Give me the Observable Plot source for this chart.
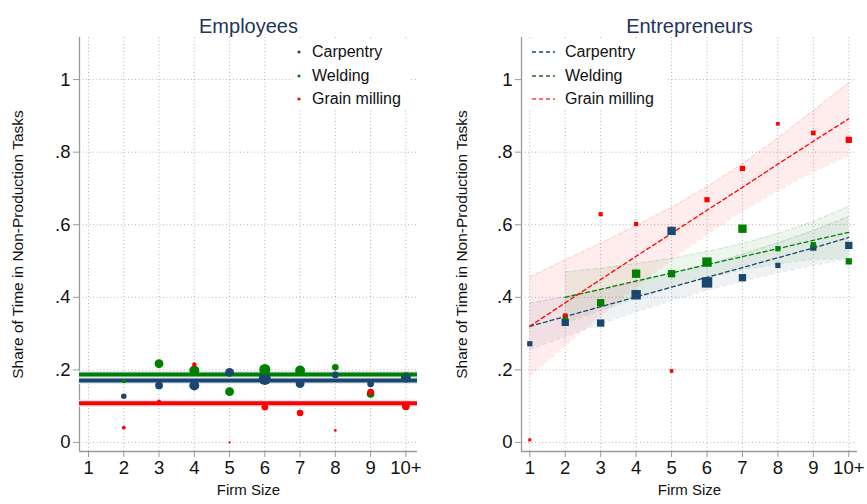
<!DOCTYPE html>
<html>
<head>
<meta charset="utf-8">
<script src="https://cdn.jsdelivr.net/npm/d3@7"></script>
<script src="https://cdn.jsdelivr.net/npm/@observablehq/plot@0.6"></script>
<style>
  body { margin: 0; background: #fff; font-family: "Liberation Sans", Arial, sans-serif; }
  #wrap { position: relative; width: 867px; height: 504px; overflow: hidden; }
  .panel { position: absolute; top: 0; }
  .legend { position: absolute; background: #fff; font-size: 16px; color: #111; }
  .legend .row { position: absolute; white-space: nowrap; line-height: 18px; }
  .legend svg { position: absolute; }
</style>
</head>
<body>
<div id="wrap"></div>
<script>
// ---------- data ----------
const firmSize = [1, 2, 3, 4, 5, 6, 7, 8, 9, 10];
const xTickLabels = ["1", "2", "3", "4", "5", "6", "7", "8", "9", "10+"];
const yTicks = [0, 0.2, 0.4, 0.6, 0.8, 1];
const yTickLabels = ["0", ".2", ".4", ".6", ".8", "1"];
const sectors = ["Carpentry", "Welding", "Grain milling"];
const sectorColors = ["#1a476f", "#008000", "#ff0000"];

// Employees: share by firm size (null = no observation) and cell size
const empCarpentry  = [null, 0.127, 0.157, 0.157, 0.193, 0.175, 0.162, 0.186, 0.161, 0.177];
const empCarpentryN = [null, 25, 49, 81, 64, 121, 64, 36, 36, 64];
const empWelding    = [null, 0.169, 0.217, 0.198, 0.140, 0.201, 0.198, 0.207, 0.134, 0.180];
const empWeldingN   = [null, 16, 64, 81, 64, 100, 81, 36, 49, 81];
const empGrain      = [null, 0.041, 0.113, 0.215, 0.000, 0.097, 0.081, 0.033, 0.139, 0.100];
const empGrainN     = [null, 12, 12, 16, 4, 36, 36, 6, 36, 49];
const empMean       = [0.171, 0.187, 0.108];

// Entrepreneurs: share by firm size and cell size
const entCarpentry  = [0.272, 0.331, 0.329, 0.407, 0.583, 0.441, 0.454, 0.488, 0.537, 0.543];
const entCarpentryN = [25, 49, 49, 81, 64, 100, 49, 25, 36, 49];
const entWelding    = [null, 0.346, 0.385, 0.465, 0.465, 0.497, 0.589, 0.534, 0.545, 0.499];
const entWeldingN   = [null, 25, 49, 64, 49, 81, 64, 25, 25, 36];
const entGrain      = [0.007, 0.350, 0.629, 0.602, 0.197, 0.669, 0.755, 0.878, 0.853, 0.834];
const entGrainN     = [9, 16, 16, 16, 12, 25, 25, 12, 20, 36];

// Entrepreneurs: linear fit and 95% CI read at each firm size
const entCarpentryFit = [0.320, 0.347, 0.374, 0.401, 0.428, 0.455, 0.482, 0.509, 0.536, 0.565];
const entCarpentryLo  = [0.256, 0.292, 0.327, 0.360, 0.391, 0.420, 0.445, 0.468, 0.488, 0.507];
const entCarpentryHi  = [0.384, 0.402, 0.421, 0.442, 0.465, 0.490, 0.519, 0.550, 0.584, 0.623];
const entWeldingFit   = [null, 0.400, 0.422, 0.445, 0.467, 0.490, 0.512, 0.534, 0.557, 0.579];
const entWeldingLo    = [null, 0.330, 0.364, 0.397, 0.427, 0.454, 0.476, 0.492, 0.505, 0.507];
const entWeldingHi    = [null, 0.470, 0.480, 0.493, 0.507, 0.526, 0.548, 0.576, 0.609, 0.651];
const entGrainFit     = [0.320, 0.385, 0.449, 0.513, 0.576, 0.640, 0.703, 0.767, 0.830, 0.892];
const entGrainLo      = [0.184, 0.267, 0.349, 0.429, 0.504, 0.575, 0.638, 0.695, 0.746, 0.792];
const entGrainHi      = [0.456, 0.503, 0.549, 0.597, 0.648, 0.705, 0.768, 0.839, 0.914, 0.992];

// ---------- tables ----------
function pointTable(valuesList, sizesList) {
  const rows = [];
  sectors.forEach((s, k) => {
    firmSize.forEach((f, i) => {
      const v = valuesList[k][i];
      if (v != null) rows.push({sector: s, firm: f, share: v, n: sizesList[k][i]});
    });
  });
  return rows;
}
function fitTable(fits, los, his) {
  const rows = [];
  sectors.forEach((s, k) => {
    firmSize.forEach((f, i) => {
      if (fits[k][i] != null) rows.push({sector: s, firm: f, fit: fits[k][i], lo: los[k][i], hi: his[k][i]});
    });
  });
  return rows;
}
const empPoints = pointTable([empCarpentry, empWelding, empGrain], [empCarpentryN, empWeldingN, empGrainN]);
const empLines = sectors.map((s, k) => ({sector: s, share: empMean[k]}));
const entPoints = pointTable([entCarpentry, entWelding, entGrain], [entCarpentryN, entWeldingN, entGrainN]);
const entFits = fitTable([entCarpentryFit, entWeldingFit, entGrainFit],
                         [entCarpentryLo, entWeldingLo, entGrainLo],
                         [entCarpentryHi, entWeldingHi, entGrainHi]);

const colorScale = {domain: sectors, range: sectorColors};
const yDomain = [-0.025, 1.116];
const gridStyle = {stroke: "#b4b4b4", strokeOpacity: 1, strokeDasharray: "1,2.5", strokeWidth: 1};
const font = "'Liberation Sans', Arial, Helvetica, sans-serif";

function frameMarks(xDomain, title, titleDx) {
  return [
    Plot.gridX(firmSize, gridStyle),
    Plot.gridY(yTicks, gridStyle),
    Plot.ruleX([xDomain[0]], {stroke: "#9a9a9a", strokeWidth: 1.3}),
    Plot.ruleY([yDomain[0]], {stroke: "#9a9a9a", strokeWidth: 1.3}),
    Plot.axisX({ticks: firmSize, tickFormat: d => xTickLabels[d - 1], tickSize: 6, tickPadding: 3,
                fontSize: 18.5, stroke: "#9a9a9a", fill: "#111", label: null}),
    Plot.axisY({ticks: yTicks, tickFormat: d => yTickLabels[yTicks.indexOf(d)], tickSize: 6, tickPadding: 3,
                fontSize: 18.5, stroke: "#9a9a9a", fill: "#111", label: null}),
    Plot.text([title], {frameAnchor: "top", dy: -19, fontSize: 20, fill: "#24335a"}),
    Plot.text(["Firm Size"], {frameAnchor: "bottom", dy: 43, fontSize: 15, fill: "#111"}),
    Plot.text(["Share of Time in Non-Production Tasks"], {frameAnchor: "left", textAnchor: "middle", dx: titleDx,
                rotate: -90, fontSize: 15.5, fill: "#111"})
  ];
}

// ---------- Employees panel ----------
const empX = [0.744, 10.33];
const left = Plot.plot({
  width: 433, height: 504,
  marginLeft: 79, marginRight: 16, marginTop: 37, marginBottom: 53,
  style: {fontFamily: font, background: "transparent"},
  x: {domain: empX, axis: null},
  y: {domain: yDomain, axis: null},
  color: colorScale,
  r: {domain: [0, 121], range: [0, 6.1]},
  marks: [
    ...frameMarks(empX, "Employees", -61),
    Plot.ruleY(empLines, {y: "share", stroke: "#e3e7ee", strokeWidth: 7}),
    Plot.ruleY(empLines, {y: "share", stroke: "sector", strokeWidth: 4}),
    Plot.dot(empPoints, {x: "firm", y: "share", r: "n", fill: "sector", stroke: null})
  ]
});

// ---------- Entrepreneurs panel ----------
const entX = [0.766, 10.246];
const right = Plot.plot({
  width: 434, height: 504,
  marginLeft: 88, marginRight: 10, marginTop: 37, marginBottom: 53,
  style: {fontFamily: font, background: "transparent"},
  x: {domain: entX, axis: null},
  y: {domain: yDomain, axis: null},
  color: colorScale,
  r: {domain: [0, 100], range: [0, 5.9]},
  marks: [
    ...frameMarks(entX, "Entrepreneurs", -59),
    Plot.areaY(entFits, {x: "firm", y1: "lo", y2: "hi", z: "sector", fill: "sector", fillOpacity: 0.07}),
    Plot.lineY(entFits, {x: "firm", y: "lo", z: "sector", stroke: "sector", strokeOpacity: 0.15, strokeDasharray: "4,3", strokeWidth: 1}),
    Plot.lineY(entFits, {x: "firm", y: "hi", z: "sector", stroke: "sector", strokeOpacity: 0.15, strokeDasharray: "4,3", strokeWidth: 1}),
    Plot.lineY(entFits, {x: "firm", y: "fit", z: "sector", stroke: "sector", strokeDasharray: "4,3", strokeWidth: 1.3}),
    Plot.dot(entPoints, {x: "firm", y: "share", r: "n", fill: "sector", stroke: null, symbol: "square"})
  ]
});

const wrap = document.getElementById("wrap");
left.classList.add("panel"); left.style.left = "0px";
right.classList.add("panel"); right.style.left = "433px";
wrap.appendChild(left);
wrap.appendChild(right);

// ---------- legends (HTML overlays) ----------
function legend(x, y, w, kind) {
  const box = document.createElement("div");
  box.className = "legend";
  Object.assign(box.style, {left: x + "px", top: y + "px", width: w + "px", height: "70px"});
  sectors.forEach((s, k) => {
    const top = 3 + k * 23.5;
    const sw = document.createElementNS("http://www.w3.org/2000/svg", "svg");
    sw.setAttribute("width", 26); sw.setAttribute("height", 18);
    sw.style.left = (kind === "dot" ? -7 : 6) + "px"; sw.style.top = top + "px";
    if (kind === "dot") {
      sw.innerHTML = `<circle cx="13" cy="9" r="1.6" fill="${sectorColors[k]}"/>`;
    } else {
      sw.innerHTML = `<line x1="2" x2="25" y1="9" y2="9" stroke="${sectorColors[k]}" stroke-opacity="${k === 2 ? 0.75 : 1}" stroke-width="1.3" stroke-dasharray="4,3"/>`;
    }
    box.appendChild(sw);
    const lab = document.createElement("div");
    lab.className = "row";
    lab.textContent = s;
    lab.style.left = (kind === "dot" ? 19 : 41) + "px";
    lab.style.top = top + "px";
    box.appendChild(lab);
  });
  wrap.appendChild(box);
}
legend(293, 40, 117, "dot");
legend(524, 40, 143, "line");
</script>
</body>
</html>
